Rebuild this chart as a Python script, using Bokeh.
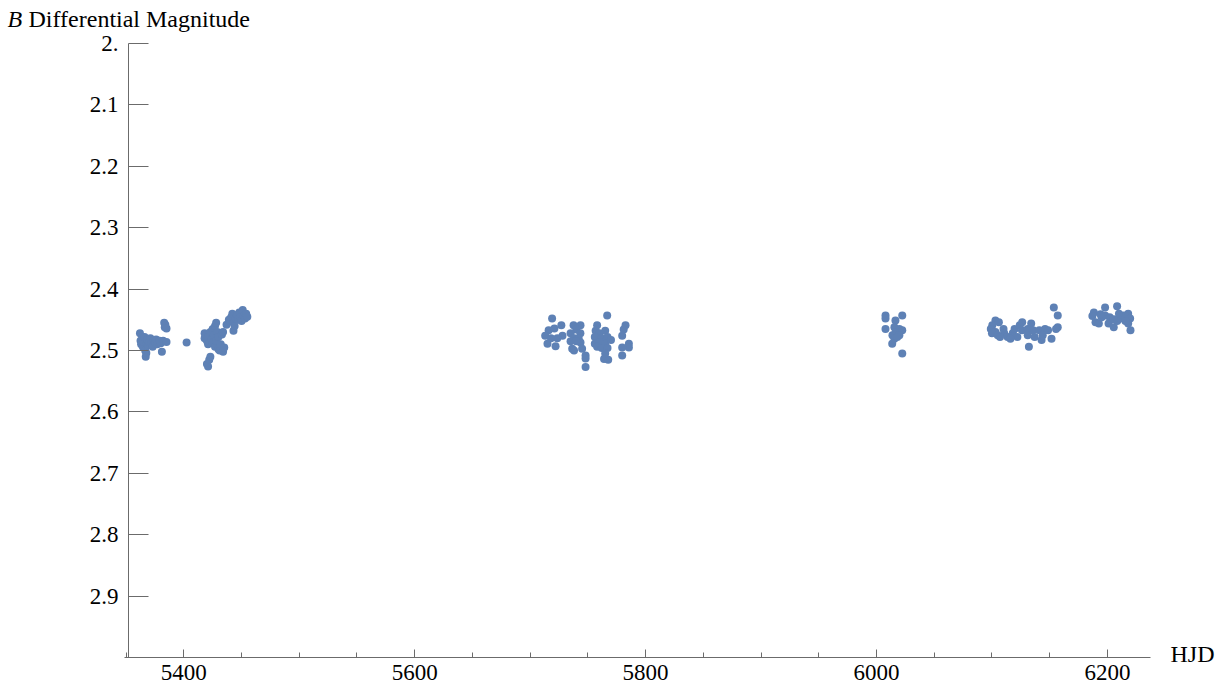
from bokeh.plotting import figure
from bokeh.models import Range1d, FixedTicker, CustomJSTickFormatter, Label
from bokeh.embed import file_html
from bokeh.resources import INLINE

# B-band differential photometry, grouped by observing run (HJD - 2450000)
hjd_run1 = [5362, 5362.5, 5363, 5364, 5364.5, 5365, 5366, 5366.5, 5367, 5367.5,
            5368, 5368.5, 5369, 5370, 5371, 5372, 5373, 5374, 5375, 5376,
            5377, 5378, 5379, 5380, 5381, 5382, 5383, 5383.5, 5384, 5385,
            5385, 5402.4]
mag_run1 = [2.472, 2.484, 2.490, 2.480, 2.494, 2.486, 2.478, 2.500, 2.510, 2.504,
            2.488, 2.482, 2.492, 2.486, 2.480, 2.488, 2.494, 2.484, 2.486, 2.482,
            2.490, 2.486, 2.484, 2.488, 2.502, 2.484, 2.455, 2.462, 2.458, 2.464,
            2.486, 2.487]

hjd_run2 = [5418, 5418, 5419, 5420, 5421, 5421, 5420, 5421, 5422, 5423,
            5423, 5424, 5425, 5425, 5426, 5427, 5427, 5428, 5428, 5429,
            5430, 5430, 5431, 5432, 5433, 5434, 5434, 5435, 5437, 5439,
            5440, 5441, 5442, 5443, 5443, 5444, 5445, 5446, 5447, 5448,
            5449, 5450, 5451, 5452, 5453, 5454, 5455]
mag_run2 = [2.472, 2.480, 2.476, 2.484, 2.490, 2.478, 2.522, 2.526, 2.515, 2.510,
            2.470, 2.482, 2.465, 2.488, 2.475, 2.460, 2.494, 2.455, 2.484, 2.470,
            2.478, 2.498, 2.500, 2.490, 2.474, 2.502, 2.470, 2.495, 2.458, 2.450,
            2.452, 2.446, 2.440, 2.455, 2.468, 2.460, 2.448, 2.442, 2.450, 2.438,
            2.446, 2.452, 2.434, 2.444, 2.448, 2.440, 2.445]

hjd_run3 = [5719, 5716, 5713, 5721, 5727, 5728, 5723.5, 5715, 5722, 5718,
            5737.6, 5743.6, 5740, 5735, 5743.5, 5738, 5742, 5735, 5743.6, 5736.4,
            5745, 5738, 5740, 5748, 5748, 5748, 5766.7, 5758, 5756.7, 5760,
            5765, 5756, 5762, 5767, 5756, 5760, 5765, 5758, 5762, 5767,
            5764, 5767.6, 5765, 5770, 5782.6, 5781, 5779.7, 5785.5, 5785.5, 5779.7,
            5779.7]
mag_run3 = [2.448, 2.467, 2.476, 2.464, 2.459, 2.476, 2.480, 2.489, 2.493, 2.480,
            2.459, 2.459, 2.466, 2.472, 2.472, 2.480, 2.480, 2.485, 2.487, 2.497,
            2.497, 2.500, 2.485, 2.508, 2.513, 2.527, 2.443, 2.459, 2.468, 2.472,
            2.468, 2.478, 2.480, 2.478, 2.489, 2.486, 2.489, 2.494, 2.496, 2.496,
            2.514, 2.515, 2.505, 2.483, 2.459, 2.466, 2.476, 2.489, 2.495, 2.495,
            2.508]

hjd_run4 = [6007.8, 6007.8, 6022.3, 6016.4, 6007.8, 6015.5, 6019.8, 6016.4, 6022.3, 6013.8,
            6019.8, 6015.5, 6013.6, 6018, 6022.3]
mag_run4 = [2.443, 2.448, 2.443, 2.451, 2.465, 2.462, 2.465, 2.471, 2.467, 2.475,
            2.475, 2.481, 2.489, 2.478, 2.505]

hjd_run5 = [6103, 6100.3, 6099, 6106, 6110, 6103, 6100, 6105, 6110.6, 6113.5,
            6118, 6119.6, 6124, 6126.2, 6122, 6126, 6131, 6134, 6135.6, 6131,
            6137, 6132, 6143, 6141, 6146, 6148.6, 6151.6, 6144, 6153.6, 6157,
            6157, 6155.5, 6116, 6107]
mag_run5 = [2.451, 2.459, 2.465, 2.454, 2.465, 2.470, 2.472, 2.475, 2.472, 2.478,
            2.472, 2.465, 2.459, 2.454, 2.478, 2.467, 2.465, 2.456, 2.467, 2.475,
            2.478, 2.494, 2.483, 2.467, 2.465, 2.467, 2.481, 2.475, 2.430, 2.443,
            2.462, 2.465, 2.481, 2.478]

hjd_run6 = [6188.3, 6187, 6189.7, 6192.6, 6198, 6208.4, 6198, 6202, 6201, 6205.5,
            6208.5, 6211, 6214, 6218, 6219.7, 6218, 6220, 6210, 6205.5, 6215.6,
            6195, 6194]
mag_run6 = [2.438, 2.444, 2.454, 2.456, 2.430, 2.428, 2.443, 2.446, 2.456, 2.462,
            2.452, 2.448, 2.443, 2.440, 2.448, 2.456, 2.467, 2.440, 2.449, 2.452,
            2.446, 2.441]

hjd = hjd_run1 + hjd_run2 + hjd_run3 + hjd_run4 + hjd_run5 + hjd_run6
bmag = mag_run1 + mag_run2 + mag_run3 + mag_run4 + mag_run5 + mag_run6

x_ticks = [5400, 5600, 5800, 6000, 6200]
x_minor = [5350, 5400, 5450, 5500, 5550, 5600, 5650, 5700, 5750, 5800,
           5850, 5900, 5950, 6000, 6050, 6100, 6150, 6200]
y_ticks = [2.0, 2.1, 2.2, 2.3, 2.4, 2.5, 2.6, 2.7, 2.8, 2.9, 3.0]

# axes cross at the lower-left corner of the data box
X_AXIS_START, X_AXIS_END = 5348.7, 6237.3
Y_CROSS_X = 5352.1
Y_TOP, Y_BOTTOM = 2.0, 3.0

# view window around the axes (the plotting frame fills the whole canvas)
X_VIEW = (5241.2, 6304.9)
Y_VIEW = (3.0521, 1.9300)

SERIF = "Liberation Serif"
AXIS_GREY = "#6b6b6b"
POINT_BLUE = "#5E81B5"
TICK_FONT_SIZE = "23px"
LABEL_FONT_SIZE = "24px"

p = figure(width=1228, height=689, output_backend="svg", toolbar_location=None,
           x_range=Range1d(*X_VIEW), y_range=Range1d(*Y_VIEW),
           min_border=0)
p.outline_line_color = None
p.xgrid.visible = False
p.ygrid.visible = False
p.background_fill_color = "white"
p.border_fill_color = "white"

p.scatter(hjd, bmag, size=8, fill_color=POINT_BLUE, line_color=None)

xa = p.xaxis[0]
xa.fixed_location = Y_BOTTOM
xa.bounds = (X_AXIS_START, X_AXIS_END)
xa.ticker = FixedTicker(ticks=x_ticks, minor_ticks=x_minor)
xa.major_tick_in = 8
xa.major_tick_out = 0
xa.minor_tick_in = 5
xa.minor_tick_out = 0
xa.axis_line_color = AXIS_GREY
xa.major_tick_line_color = AXIS_GREY
xa.minor_tick_line_color = AXIS_GREY
xa.major_label_text_font = SERIF
xa.major_label_text_font_size = TICK_FONT_SIZE
xa.major_label_text_color = "black"
xa.major_label_standoff = 7

ya = p.yaxis[0]
ya.fixed_location = Y_CROSS_X
ya.bounds = (Y_TOP, Y_BOTTOM)
ya.ticker = FixedTicker(ticks=y_ticks, minor_ticks=[])
ya.formatter = CustomJSTickFormatter(
    code="if (tick > 2.95) { return ''; } "
         "return Math.abs(tick - 2) < 1e-9 ? '2.' : tick.toFixed(1);")
ya.major_tick_in = 20
ya.major_tick_out = 0
ya.minor_tick_in = 0
ya.minor_tick_out = 0
ya.axis_line_color = AXIS_GREY
ya.major_tick_line_color = AXIS_GREY
ya.major_label_text_font = SERIF
ya.major_label_text_font_size = TICK_FONT_SIZE
ya.major_label_text_color = "black"
ya.major_label_standoff = 10

# axis titles: magnitude label above the vertical axis, HJD at the end of the time axis
p.add_layout(Label(x=Y_CROSS_X, y=Y_TOP, x_offset=-121, y_offset=24, text="B",
                   text_font=SERIF, text_font_style="italic", text_font_size=LABEL_FONT_SIZE,
                   text_baseline="alphabetic", text_color="black"))
p.add_layout(Label(x=Y_CROSS_X, y=Y_TOP, x_offset=-100, y_offset=24,
                   text="Differential Magnitude",
                   text_font=SERIF, text_font_size=LABEL_FONT_SIZE,
                   text_baseline="alphabetic", text_color="black"))
p.add_layout(Label(x=X_AXIS_END, y=Y_BOTTOM, x_offset=20, y_offset=4, text="HJD",
                   text_font=SERIF, text_font_size=LABEL_FONT_SIZE,
                   text_baseline="alphabetic", text_color="black"))

open("out.html", "w").write(file_html(p, INLINE))
